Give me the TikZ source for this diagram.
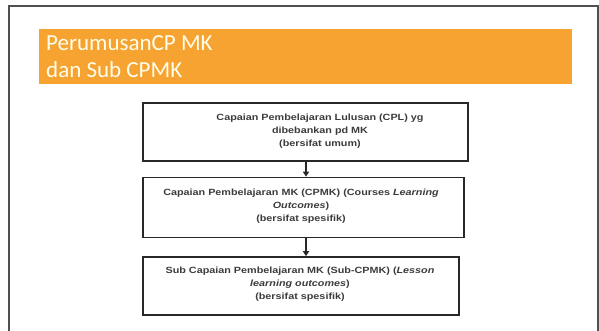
\documentclass[tikz,border=0pt]{standalone}
\usepackage{fontspec}
\setmainfont{Liberation Sans}
\newfontfamily\titlefont{Carlito}
\newfontfamily\boxfont[FakeStretch=1.2]{Liberation Sans}
\usetikzlibrary{arrows.meta}
\definecolor{bandorange}{RGB}{247,163,50}
\definecolor{framegray}{RGB}{80,80,80}
\definecolor{inkdark}{RGB}{40,40,40}
\definecolor{txtgray}{RGB}{60,60,60}
\tikzset{
  stepbox/.style={draw=inkdark, line width=1.6pt, inner sep=0pt},
  boxtext/.style={font=\boxfont\bfseries\fontsize{9}{13}\selectfont, text=txtgray, align=center, inner sep=0pt},
  titletext/.style={font=\titlefont\fontsize{23}{27}\selectfont, text=white!92!yellow, anchor=base west, inner sep=0pt},
  arr/.style={draw=inkdark, line width=1.4pt, -{Triangle[length=5pt,width=6pt]}}
}
\begin{document}
\begin{tikzpicture}[x=1pt,y=-1pt]
\useasboundingbox (0,0) rectangle (599,330);
\fill[white] (0,0) rectangle (599,330);
% slide frame
\draw[framegray, line width=2pt] (9,340) -- (9,6) -- (598,6) -- (598,340);
% orange title band
\fill[bandorange] (39,29) rectangle (572,84);
\node[titletext] (t1) at (46,50) {PerumusanCP MK};
\node[titletext] (t2) at (46,77) {dan Sub CPMK};
% boxes
\node[stepbox, minimum width=325pt, minimum height=58pt] (b1) at (305.5,132) {};
\node[boxtext] (b1t) at (320,131) {Capaian Pembelajaran Lulusan (CPL) yg\\dibebankan pd MK\\(bersifat umum)};
\node[stepbox, minimum width=321pt, minimum height=60pt] (b2) at (303.5,207.5) {};
\node[boxtext] (b2t) at (301,206) {Capaian Pembelajaran MK (CPMK) (Courses \textit{Learning}\\\textit{Outcomes})\\(bersifat spesifik)};
\node[stepbox, minimum width=316pt, minimum height=58pt] (b3) at (301,286) {};
\node[boxtext] (b3t) at (300,284) {Sub Capaian Pembelajaran MK (Sub-CPMK) (\textit{Lesson}\\\textit{learning outcomes})\\(bersifat spesifik)};
% arrows
\draw[arr] (b1.south -| 306,0) -- (b2.north -| 306,0);
\draw[arr] (b2.south -| 306,0) -- (b3.north -| 306,0);
\end{tikzpicture}
\end{document}
